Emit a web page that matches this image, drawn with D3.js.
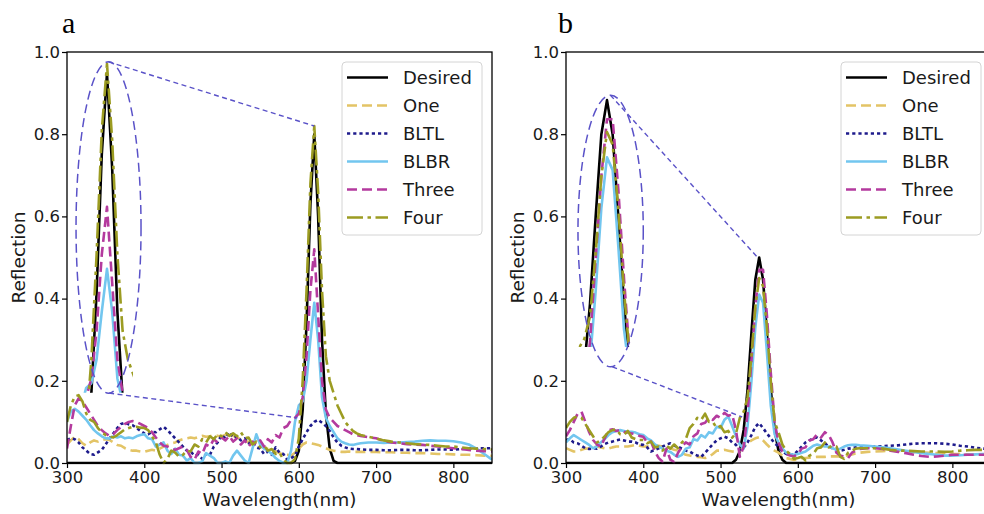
<!DOCTYPE html>
<html>
<head>
<meta charset="utf-8">
<script src="https://cdn.jsdelivr.net/npm/d3@7"></script>
<style>
  body { margin: 0; background: #ffffff; }
  svg { display: block; }
</style>
</head>
<body>
<svg id="chart" width="984" height="514"></svg>
<script>
// Sampling grid (nm): 5 nm steps up to 680, 10 nm steps beyond
const wavelength = [
  300,305,310,315,320,325,330,335,340,345,
  350,355,360,365,370,375,380,385,390,395,
  400,405,410,415,420,425,430,435,440,445,
  450,455,460,465,470,475,480,485,490,495,
  500,505,510,515,520,525,530,535,540,545,
  550,555,560,565,570,575,580,585,590,595,
  600,605,610,615,620,625,630,635,640,645,
  650,655,660,665,670,675,680,
  690,700,710,720,730,740,750,760,770,780,790,800,810,820,830,840,850
];

const seriesNames = ["Desired", "One", "BLTL", "BLBR", "Three", "Four"];

// ---- Panel a: reflection spectra ----
const desiredA = [
  0,0,0,0,0,0,0,0,0,0,
  0,0,0,0,0,0,0,0,0,0,
  0,0,0,0,0,0,0,0,0,0,
  0,0,0,0,0,0,0,0,0,0,
  0,0,0,0,0,0,0,0,0,0,
  0,0,0,0,0,0,0,0,0,0.005,
  0.03,0.13,0.34,0.63,0.80,0.60,0.30,0.12,0.035,0.005,
  0,0,0,0,0,0,0,
  0,0,0,0,0,0,0,0,0,0,0,0,0,0,0,0,0
];
const oneA = [
  0.045,0.055,0.064,0.058,0.048,0.042,0.05,0.055,0.052,0.056,
  0.058,0.056,0.05,0.044,0.042,0.036,0.032,0.03,0.03,0.028,
  0.027,0.03,0.032,0.03,0.035,0.04,0.044,0.048,0.05,0.055,
  0.058,0.06,0.062,0.06,0.063,0.066,0.064,0.065,0.068,0.066,
  0.065,0.068,0.07,0.066,0.062,0.058,0.056,0.05,0.048,0.045,
  0.04,0.038,0.034,0.03,0.028,0.024,0.02,0.02,0.018,0.025,
  0.035,0.045,0.05,0.048,0.046,0.044,0.04,0.036,0.032,0.03,
  0.028,0.027,0.027,0.028,0.027,0.027,0.027,
  0.027,0.027,0.026,0.026,0.025,0.025,0.024,0.024,0.023,0.022,0.022,0.021,0.02,0.02,0.019,0.018,0.017
];
const bltlA = [
  0.056,0.06,0.058,0.05,0.038,0.03,0.022,0.02,0.026,0.032,
  0.045,0.06,0.072,0.085,0.095,0.098,0.094,0.092,0.085,0.078,
  0.072,0.07,0.076,0.075,0.082,0.088,0.08,0.07,0.06,0.05,
  0.04,0.03,0.028,0.018,0.02,0.01,0.022,0.02,0.04,0.05,
  0.068,0.06,0.075,0.062,0.065,0.055,0.06,0.048,0.052,0.038,
  0.035,0.022,0.028,0.02,0.038,0.025,0.022,0.008,0.012,0.018,
  0.04,0.058,0.075,0.09,0.1,0.105,0.098,0.09,0.078,0.062,
  0.05,0.042,0.038,0.035,0.034,0.034,0.033,
  0.032,0.032,0.031,0.031,0.032,0.032,0.031,0.031,0.032,0.033,0.033,0.032,0.034,0.035,0.036,0.036,0.036
];
const blbrA = [
  0.1,0.125,0.132,0.125,0.115,0.105,0.092,0.08,0.072,0.065,
  0.06,0.06,0.065,0.062,0.065,0.06,0.062,0.06,0.065,0.068,
  0.07,0.06,0.058,0.04,0.045,0.05,0.03,0.022,0.035,0.02,
  0.018,0.006,0.012,0,0,0.004,0.024,0.018,0.012,0,
  0,0.004,0,0.018,0.03,0.018,0.006,0,0.035,0.07,
  0.045,0.035,0.03,0.022,0.012,0.005,0,0,0.03,0.1,
  0.14,0.15,0.2,0.3,0.39,0.3,0.16,0.11,0.09,0.075,
  0.06,0.052,0.048,0.045,0.044,0.046,0.048,
  0.05,0.05,0.049,0.05,0.05,0.051,0.052,0.054,0.055,0.054,0.054,0.053,0.05,0.045,0.035,0.022,0.008
];
const threeA = [
  0.035,0.09,0.14,0.157,0.15,0.135,0.12,0.105,0.09,0.08,
  0.072,0.066,0.07,0.08,0.088,0.095,0.1,0.102,0.1,0.095,
  0.09,0.085,0.075,0.062,0.05,0.042,0.04,0.035,0.032,0.036,
  0.04,0.032,0.015,0.008,0.028,0.022,0.045,0.04,0.058,0.05,
  0.062,0.055,0.066,0.052,0.06,0.045,0.055,0.04,0.052,0.045,
  0.055,0.04,0.058,0.05,0.068,0.062,0.085,0.09,0.105,0.11,
  0.12,0.16,0.26,0.42,0.52,0.36,0.2,0.13,0.11,0.1,
  0.09,0.085,0.08,0.075,0.07,0.068,0.066,
  0.063,0.06,0.054,0.05,0.048,0.046,0.045,0.044,0.042,0.04,0.038,0.036,0.034,0.032,0.03,0.029,0.028
];
const fourA = [
  0.1,0.14,0.162,0.165,0.15,0.12,0.105,0.1,0.085,0.075,
  0.068,0.065,0.062,0.068,0.075,0.082,0.085,0.088,0.088,0.086,
  0.085,0.08,0.065,0.05,0.02,0,0.01,0.03,0.025,0.015,
  0.02,0.03,0.028,0.045,0.04,0.058,0.05,0.065,0.058,0.07,
  0.065,0.075,0.066,0.072,0.065,0.075,0.06,0.062,0.045,0.052,
  0.038,0.042,0.03,0.034,0.022,0.025,0.008,0,0,0.01,
  0.06,0.2,0.42,0.68,0.82,0.66,0.42,0.26,0.2,0.17,
  0.14,0.12,0.1,0.088,0.078,0.072,0.068,
  0.064,0.06,0.055,0.052,0.05,0.048,0.046,0.045,0.044,0.042,0.04,0.04,0.038,0.036,0.035,0.034,0.033
];

// ---- Panel b: reflection spectra ----
const desiredB = [
  0,0,0,0,0,0,0,0,0,0,
  0,0,0,0,0,0,0,0,0,0,
  0,0,0,0,0,0,0,0,0,0,
  0,0,0,0,0,0,0,0,0,0,
  0,0,0,0,0.008,0.029,0.081,0.18,0.317,0.446,
  0.5,0.446,0.317,0.18,0.081,0.029,0.008,0,0,0,
  0,0,0,0,0,0,0,0,0,0,
  0,0,0,0,0,0,0,
  0,0,0,0,0,0,0,0,0,0,0,0,0,0,0,0,0
];
const oneB = [
  0.036,0.032,0.028,0.028,0.032,0.035,0.036,0.038,0.04,0.038,
  0.036,0.035,0.038,0.04,0.04,0.04,0.04,0.042,0.044,0.042,
  0.04,0.04,0.042,0.044,0.042,0.04,0.04,0.036,0.032,0.03,
  0.025,0.02,0.018,0.016,0.015,0.014,0.012,0.015,0.022,0.03,
  0.03,0.032,0.03,0.028,0.027,0.03,0.04,0.048,0.055,0.06,
  0.063,0.055,0.045,0.036,0.03,0.025,0.018,0.012,0.01,0.007,
  0.01,0.012,0.012,0.013,0.014,0.015,0.015,0.015,0.016,0.016,
  0.016,0.016,0.017,0.019,0.021,0.023,0.025,
  0.027,0.028,0.029,0.03,0.03,0.028,0.027,0.026,0.025,0.024,0.023,0.022,0.022,0.021,0.02,0.02,0.019
];
const bltlB = [
  0.056,0.058,0.05,0.048,0.042,0.036,0.034,0.036,0.035,0.04,
  0.046,0.05,0.052,0.055,0.057,0.055,0.052,0.052,0.05,0.045,
  0.044,0.038,0.028,0.032,0.036,0.04,0.045,0.048,0.042,0.04,
  0.035,0.03,0.028,0.022,0.018,0.015,0.025,0.035,0.046,0.055,
  0.06,0.064,0.06,0.05,0.044,0.032,0.038,0.05,0.068,0.088,
  0.097,0.085,0.072,0.06,0.048,0.04,0.028,0.022,0.02,0.02,
  0.03,0.04,0.05,0.055,0.06,0.062,0.055,0.048,0.04,0.036,
  0.032,0.03,0.032,0.035,0.036,0.038,0.04,
  0.04,0.04,0.041,0.042,0.043,0.045,0.047,0.048,0.048,0.048,0.047,0.045,0.042,0.04,0.037,0.035,0.034
];
const blbrB = [
  0.05,0.06,0.068,0.062,0.056,0.05,0.044,0.036,0.04,0.05,
  0.058,0.068,0.075,0.078,0.08,0.078,0.076,0.076,0.074,0.07,
  0.068,0.06,0.055,0.045,0.04,0.035,0.03,0.027,0.02,0.015,
  0.02,0.035,0.038,0.058,0.055,0.068,0.062,0.075,0.072,0.088,
  0.085,0.105,0.113,0.09,0.065,0.045,0.035,0.09,0.2,0.33,
  0.41,0.39,0.27,0.14,0.07,0.05,0.035,0.025,0.022,0.02,
  0.022,0.025,0.028,0.035,0.042,0.045,0.042,0.04,0.04,0.036,
  0.032,0.035,0.04,0.043,0.044,0.044,0.043,
  0.042,0.04,0.038,0.036,0.033,0.03,0.027,0.024,0.022,0.02,0.018,0.018,0.019,0.02,0.021,0.022,0.022
];
const threeB = [
  0.065,0.08,0.1,0.12,0.125,0.1,0.075,0.056,0.045,0.04,
  0.06,0.08,0.082,0.078,0.08,0.076,0.074,0.072,0.07,0.066,
  0.064,0.05,0.052,0.028,0.012,0.003,0.035,0.008,0.002,0.025,
  0.04,0.05,0.045,0.065,0.072,0.095,0.098,0.11,0.105,0.115,
  0.11,0.122,0.115,0.118,0.08,0.015,0.04,0.12,0.25,0.38,
  0.47,0.47,0.36,0.22,0.1,0.05,0.028,0.022,0.018,0.016,
  0.022,0.035,0.038,0.055,0.058,0.07,0.062,0.075,0.068,0.05,
  0.025,0.018,0.015,0.012,0.025,0.03,0.034,
  0.036,0.036,0.034,0.03,0.027,0.024,0.02,0.017,0.015,0.016,0.018,0.02,0.02,0.02,0.02,0.02,0.02
];
const fourB = [
  0.085,0.1,0.11,0.113,0.11,0.095,0.08,0.065,0.05,0.055,
  0.065,0.075,0.08,0.082,0.07,0.068,0.078,0.062,0.058,0.056,
  0.056,0.048,0.052,0.038,0.04,0.03,0.042,0.035,0.045,0.036,
  0.05,0.058,0.085,0.095,0.11,0.105,0.12,0.1,0.1,0.085,
  0.09,0.075,0.078,0.062,0.072,0.11,0.125,0.16,0.26,0.38,
  0.45,0.43,0.33,0.2,0.1,0.075,0.045,0.03,0.022,0.01,
  0.012,0.015,0.006,0.018,0.022,0.036,0.038,0.05,0.038,0.042,
  0.04,0.015,0.01,0.025,0.03,0.035,0.036,
  0.036,0.036,0.035,0.032,0.03,0.03,0.029,0.028,0.028,0.028,0.027,0.028,0.03,0.031,0.032,0.032,0.032
];

// Axis ticks
const xTicks = [300, 400, 500, 600, 700, 800];
const yTicks = [0, 0.2, 0.4, 0.6, 0.8, 1.0];
const yTickLabels = ["0.0", "0.2", "0.4", "0.6", "0.8", "1.0"];
const panelLetters = ["a", "b"];

// Line styles, in legend order
const lineStyles = [
  { color: "#000000", dash: null },
  { color: "#e3c466", dash: "10,5" },
  { color: "#1e1b8c", dash: "3.2,3" },
  { color: "#72c6ef", dash: null },
  { color: "#b43a9e", dash: "10,5" },
  { color: "#9c9c22", dash: "16,4.5,3.5,4.5" }
];
const zoomColor = "#5a52c8";

// Layout of the two panels and their magnified peak insets
// (src = data window that is magnified, dst = where it is redrawn, in data units of the axes)
const panels = [
  {
    letter: panelLetters[0], left: 67,
    series: [desiredA, oneA, bltlA, blbrA, threeA, fourA],
    inset: {
      srcX: [595, 645], srcY: [0.13, 0.82],
      dstX: [318.1, 385.4], dstY: [0.171, 0.971],
      ellX: [311.7, 395.8], ellY: [0.17, 0.976],
      links: [[[353.7, 0.976], [620, 0.82]], [[354.5, 0.17], [598, 0.11]]]
    }
  },
  {
    letter: panelLetters[1], left: 566,
    series: [desiredB, oneB, bltlB, blbrB, threeB, fourB],
    inset: {
      srcX: [525, 575], srcY: [0.112, 0.5],
      dstX: [316.4, 389.7], dstY: [0.282, 0.883],
      ellX: [315.5, 400], ellY: [0.234, 0.895],
      links: [[[357.5, 0.895], [548, 0.5]], [[360, 0.234], [528, 0.112]]]
    }
  }
];

const plotTop = 52, plotBottom = 463, plotWidth = 425;
const svg = d3.select("#chart");
const defs = svg.append("defs");
const font = "'DejaVu Sans', sans-serif";

function styleLine(sel, k) {
  sel.attr("fill", "none")
    .attr("stroke", lineStyles[k].color)
    .attr("stroke-width", 2.6)
    .attr("stroke-linejoin", "round")
    .attr("stroke-linecap", "butt")
    .attr("stroke-dasharray", lineStyles[k].dash);
}

panels.forEach(p => {
  const g = svg.append("g");
  const x = d3.scaleLinear().domain([300, 850]).range([p.left, p.left + plotWidth]);
  const y = d3.scaleLinear().domain([0, 1]).range([plotBottom, plotTop]);

  // plot area clip
  defs.append("clipPath").attr("id", "plot-" + p.letter)
    .append("rect")
    .attr("x", x(300)).attr("y", y(1))
    .attr("width", x(850) - x(300)).attr("height", y(0) - y(1) + 1.5);

  const curves = g.append("g").attr("clip-path", `url(#plot-${p.letter})`);
  const line = d3.line().x((d, i) => x(wavelength[i])).y(d => y(d));
  p.series.forEach((vals, k) => {
    curves.append("path").datum(vals).attr("d", line).call(styleLine, k);
  });

  // magnified copy of the second peak
  const ins = p.inset;
  const ix = d3.scaleLinear().domain(ins.srcX).range(ins.dstX.map(x));
  const iy = d3.scaleLinear().domain(ins.srcY).range(ins.dstY.map(y));
  defs.append("clipPath").attr("id", "inset-" + p.letter)
    .append("rect")
    .attr("x", ix(ins.srcX[0])).attr("y", y(1))
    .attr("width", ix(ins.srcX[1]) - ix(ins.srcX[0]))
    .attr("height", iy(ins.srcY[0]) - y(1));
  const insetG = curves.append("g").attr("clip-path", `url(#inset-${p.letter})`);
  const iline = d3.line().x((d, i) => ix(wavelength[i])).y(d => iy(d));
  p.series.forEach((vals, k) => {
    insetG.append("path").datum(vals).attr("d", iline).call(styleLine, k);
  });

  // zoom ellipse and connector lines
  g.append("ellipse")
    .attr("cx", (x(ins.ellX[0]) + x(ins.ellX[1])) / 2)
    .attr("cy", (y(ins.ellY[0]) + y(ins.ellY[1])) / 2)
    .attr("rx", (x(ins.ellX[1]) - x(ins.ellX[0])) / 2)
    .attr("ry", (y(ins.ellY[0]) - y(ins.ellY[1])) / 2)
    .attr("fill", "none").attr("stroke", zoomColor)
    .attr("stroke-width", 1.5).attr("stroke-dasharray", "9,5");
  ins.links.forEach(([a, b]) => {
    g.append("line")
      .attr("x1", x(a[0])).attr("y1", y(a[1]))
      .attr("x2", x(b[0])).attr("y2", y(b[1]))
      .attr("stroke", zoomColor).attr("stroke-width", 1.4)
      .attr("stroke-dasharray", "5,3.5");
  });

  // axes
  const xAxis = d3.axisBottom(x).tickValues(xTicks).tickSize(5).tickSizeOuter(0).tickPadding(3);
  const yAxis = d3.axisLeft(y).tickValues(yTicks).tickSize(5).tickSizeOuter(0).tickPadding(2)
    .tickFormat((d, i) => yTickLabels[i]);
  const ax = g.append("g").attr("transform", `translate(0,${plotBottom})`).call(xAxis);
  const ay = g.append("g").attr("transform", `translate(${p.left},0)`).call(yAxis);
  [ax, ay].forEach(a => {
    a.select(".domain").remove();
    a.selectAll(".tick line").attr("stroke", "#000").attr("stroke-width", 1.2);
    a.selectAll(".tick text").attr("fill", "#1a1a1a")
      .style("font-family", font).style("font-size", "16.5px");
  });

  // frame
  g.append("rect")
    .attr("x", x(300)).attr("y", y(1))
    .attr("width", x(850) - x(300)).attr("height", y(0) - y(1))
    .attr("fill", "none").attr("stroke", "#000").attr("stroke-width", 1.3);

  // axis titles
  g.append("text")
    .attr("x", (x(300) + x(850)) / 2).attr("y", 506)
    .attr("text-anchor", "middle").attr("fill", "#1a1a1a")
    .style("font-family", font).style("font-size", "18.5px")
    .text("Wavelength(nm)");
  g.append("text")
    .attr("transform", `translate(${p.left - 42},${(y(0) + y(1)) / 2}) rotate(-90)`)
    .attr("text-anchor", "middle").attr("fill", "#1a1a1a")
    .style("font-family", font).style("font-size", "18.5px")
    .text("Reflection");

  // panel letter
  g.append("text")
    .attr("x", p.left - (p.letter === "a" ? 5 : 8)).attr("y", 33)
    .attr("fill", "#000")
    .style("font-family", "'Liberation Serif', 'Times New Roman', serif")
    .style("font-size", "30px")
    .text(p.letter);

  // legend
  const lx = x(850) - 150, ly = 62;
  const lg = g.append("g");
  lg.append("rect")
    .attr("x", lx).attr("y", ly).attr("width", 140).attr("height", 173)
    .attr("rx", 4).attr("fill", "#ffffff").attr("fill-opacity", 0.85)
    .attr("stroke", "#d4d4d4").attr("stroke-width", 1);
  seriesNames.forEach((name, k) => {
    const ey = ly + 15.5 + k * 28;
    lg.append("line")
      .attr("x1", lx + 5).attr("x2", lx + 46)
      .attr("y1", ey).attr("y2", ey)
      .call(styleLine, k);
    lg.append("text")
      .attr("x", lx + 61).attr("y", ey).attr("dy", "0.35em")
      .attr("fill", "#1a1a1a")
      .style("font-family", font).style("font-size", "18px")
      .text(name);
  });
});
</script>
</body>
</html>
